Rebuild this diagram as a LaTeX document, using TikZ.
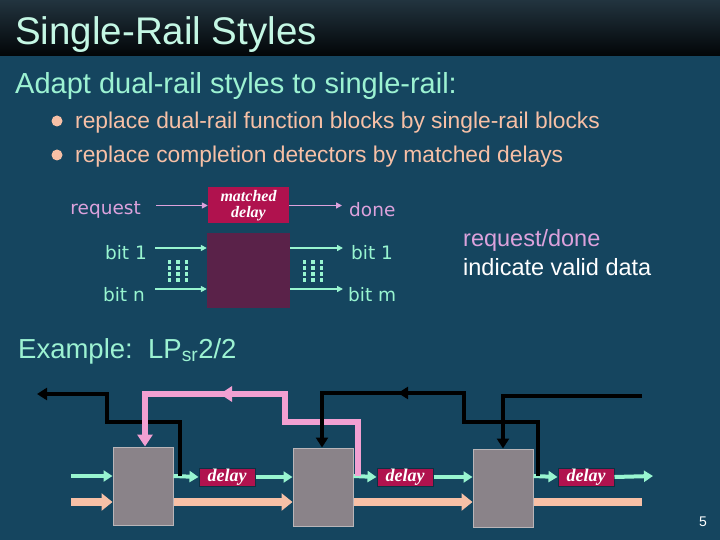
\documentclass[tikz,border=0pt]{standalone}
\usepackage{fontspec}
\setmainfont{Liberation Sans}
\newfontfamily\labelfont{DejaVu Sans}
\newfontfamily\delayfont{Liberation Serif}
\usetikzlibrary{arrows.meta,calc,positioning}
\definecolor{slidebg}{HTML}{15455F}
\definecolor{bartop}{HTML}{22343F}
\definecolor{barbottom}{HTML}{020507}
\definecolor{headaqua}{HTML}{9CF2D2}
\definecolor{railaqua}{HTML}{98F5D0}
\definecolor{railpeach}{HTML}{F7C0A6}
\definecolor{railpink}{HTML}{F2A0D2}
\definecolor{reqpink}{HTML}{DCA2DC}
\definecolor{delayred}{HTML}{B0124E}
\definecolor{funcpurple}{HTML}{5A2249}
\definecolor{stagegray}{HTML}{8A8389}
\tikzset{
  bigtext/.style={anchor=base west,inner sep=0pt},
  reqlabel/.style={text=reqpink,font=\labelfont\fontsize{18.5}{20}\selectfont,inner sep=0pt},
  bitlabel/.style={text=railaqua,font=\labelfont\fontsize{18.5}{20}\selectfont,inner sep=0pt},
  reqarrow/.style={-{Triangle[length=6pt,width=6pt]},reqpink,line width=1.6pt},
  bitarrow/.style={-{Triangle[length=6pt,width=6pt]},railaqua,line width=1.6pt},
  matchbox/.style={fill=delayred,text=white,align=center,minimum width=81,minimum height=36,inner sep=0pt,
    font=\delayfont\bfseries\itshape\fontsize{16}{16}\selectfont},
  funcbox/.style={fill=funcpurple,minimum width=83,minimum height=75,inner sep=0pt},
  stagebox/.style={draw=stagegray!60!white,fill=stagegray,line width=1pt,minimum width=60,minimum height=78,inner sep=0pt},
  delaybox/.style={fill=delayred,draw=slidebg!70!black,line width=1pt,text=white,minimum width=56,minimum height=18,inner sep=0pt,
    font=\delayfont\bfseries\itshape\fontsize{18}{18}\selectfont},
  aquawire/.style={-{Triangle[length=9pt,width=11pt]},railaqua,line width=4pt},
  peachwire/.style={-{Triangle[length=11pt,width=17pt]},railpeach,line width=8pt},
  ackwire/.style={-{Triangle[length=10pt,width=12pt]},black,line width=4pt,line join=miter},
  pinkwire/.style={-{Triangle[length=12pt,width=15pt]},railpink,line width=6pt,line join=miter}
}
\begin{document}
\begin{tikzpicture}[x=1pt,y=-1pt]
\useasboundingbox (0,0) rectangle (720,540);
\fill[slidebg] (0,0) rectangle (720,540);
\shade[top color=bartop,bottom color=barbottom] (0,0) rectangle (720,56);
% headings
\node[bigtext,text=headaqua!60!white,font=\fontsize{38.5}{40}\selectfont] (title) at (15,45) {Single-Rail Styles};
\node[bigtext,text=headaqua,font=\fontsize{29}{30}\selectfont] (adapt) at (15,94) {Adapt dual-rail styles to single-rail:};
\fill[railpeach] (57,121) circle (5.5);
\fill[railpeach] (57,155) circle (5.5);
\node[bigtext,text=railpeach,font=\fontsize{22.8}{24}\selectfont] (bulletA) at (75,129) {replace dual-rail function blocks by single-rail blocks};
\node[bigtext,text=railpeach,font=\fontsize{22.8}{24}\selectfont] (bulletB) at (75,163) {replace completion detectors by matched delays};
% single-rail block
\node[matchbox] (match) at (248.5,205.5) {matched\\delay};
\node[funcbox] (func) at (248.5,270.5) {};
\node[reqlabel,anchor=east] (req) at (141,210) {request};
\node[reqlabel,anchor=west] (done) at (349,210) {done};
\node[bitlabel,anchor=east] (bitinA) at (147,253) {bit 1};
\node[bitlabel,anchor=east] (bitinN) at (145,295) {bit n};
\node[bitlabel,anchor=west] (bitoutA) at (351,253) {bit 1};
\node[bitlabel,anchor=west] (bitoutM) at (348,295) {bit m};
\draw[reqarrow] ([xshift=15pt]req.east |- match.west) -- (match.west);
\draw[reqarrow] (match.east) -- ([xshift=-7pt]done.west |- match.east);
\draw[bitarrow] ([xshift=8pt,yshift=5pt]bitinA.east) -- ([yshift=5pt]bitinA.east -| func.west);
\draw[bitarrow] ([xshift=10pt,yshift=6pt]bitinN.east) -- ([yshift=6pt]bitinN.east -| func.west);
\draw[bitarrow] ([yshift=5pt]bitoutA.west -| func.east) -- ([xshift=-8pt,yshift=5pt]bitoutA.west);
\draw[bitarrow] ([yshift=6pt]bitoutM.west -| func.east) -- ([xshift=-5pt,yshift=6pt]bitoutM.west);
\foreach \c in {0,1,2}{\foreach \r in {0,1,2,3}{
  \fill[railaqua] (167.5+8.5*\c,260+6*\r) rectangle ++(3.5,3.5);
  \fill[railaqua] (302.5+8.5*\c,260+6*\r) rectangle ++(3.5,3.5);}}
\node[bigtext,text=reqpink,font=\fontsize{23.5}{25}\selectfont] (rdnote) at (463,246) {request/done};
\node[bigtext,text=white,font=\fontsize{23.5}{25}\selectfont] (validnote) at (463,275) {indicate valid data};
% example pipeline
\node[bigtext,text=headaqua,font=\fontsize{27.5}{29}\selectfont] (example) at (18,358) {Example:\ \ LP\textsubscript{sr}2/2};
\node[stagebox] (stageA) at (143,486) {};
\node[stagebox] (stageB) at (323,487) {};
\node[stagebox] (stageC) at (503,488) {};
\node[delaybox] (delayA) at (227,477) {delay};
\node[delaybox] (delayB) at (405,477) {delay};
\node[delaybox] (delayC) at (586,477) {delay};
\coordinate (datain) at (71,476);
\coordinate (dataout) at (653,476);
\coordinate (bulkin) at (71,502);
\coordinate (bulkout) at (642,502);
\coordinate (ackout) at (37,394);
\coordinate (ackin) at (642,396);
\draw[aquawire] (datain) -- (datain -| stageA.west);
\draw[aquawire] (datain -| stageA.east) -- (delayA.west);
\draw[aquawire] (delayA.east) -- (delayA.east -| stageB.west);
\draw[aquawire] (datain -| stageB.east) -- (delayB.west);
\draw[aquawire] (delayB.east) -- (delayB.east -| stageC.west);
\draw[aquawire] (datain -| stageC.east) -- (delayC.west);
\draw[aquawire] (delayC.east) -- (dataout);
\draw[peachwire] (bulkin) -- (bulkin -| stageA.west);
\draw[peachwire] (bulkin -| stageA.east) -- (bulkin -| stageB.west);
\draw[peachwire] (bulkin -| stageB.east) -- (bulkin -| stageC.west);
\draw[peachwire,-] (bulkin -| stageC.east) -- (bulkout);
% acknowledges
\draw[ackwire] (180,476) |- (107,422) |- (ackout);
\draw[pinkwire] (358,476) |- (285,422) |- (145,394) -- (stageA.north -| 145,0);
\draw[pinkwire] (285,394) -- (220,394);
\draw[ackwire] (538,476) |- (464,422) |- (322,393) -- (stageB.north -| 322,0);
\draw[ackwire] (464,393) -- (398,393);
\draw[ackwire] (ackin) -| (stageC.north);
\node[text=white,font=\fontsize{14}{16}\selectfont] (pagenum) at (703,522) {5};
\end{tikzpicture}
\end{document}
